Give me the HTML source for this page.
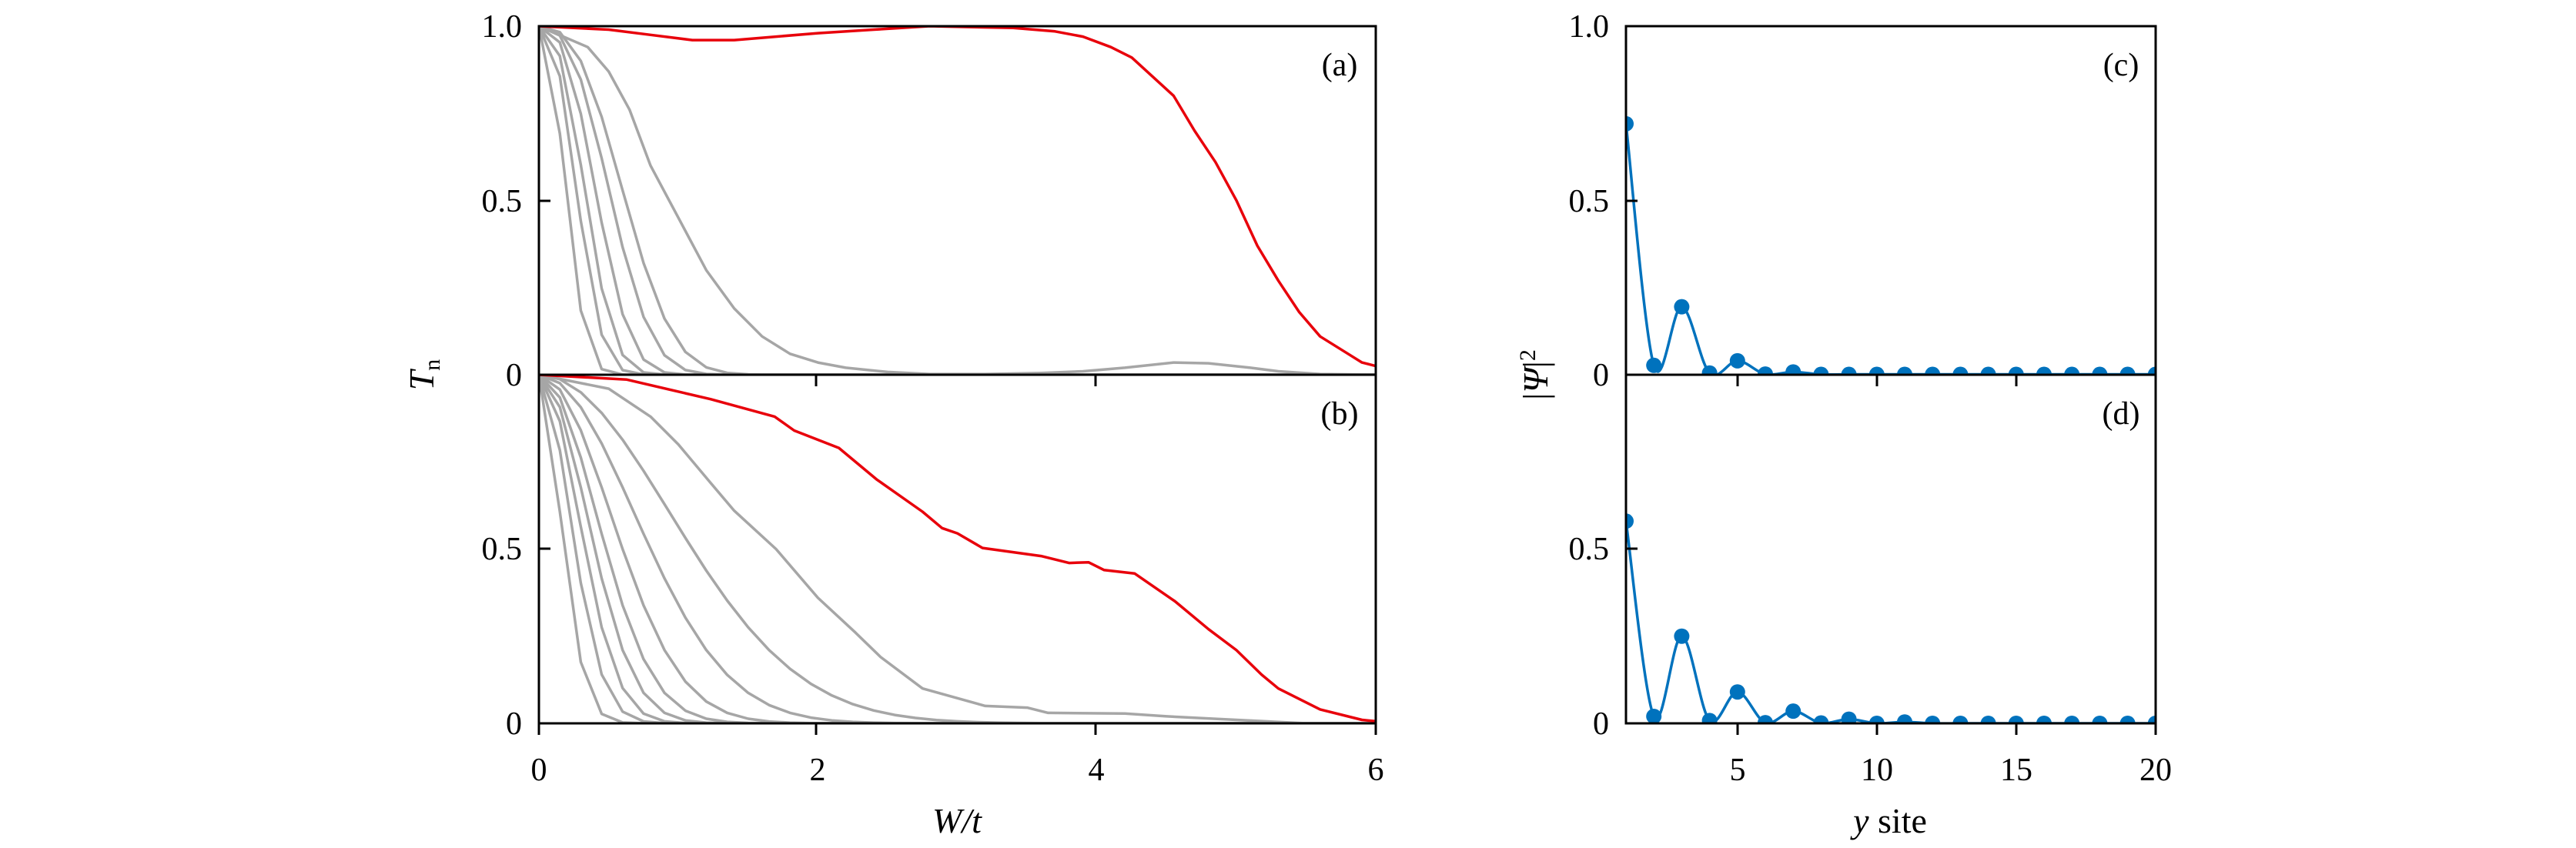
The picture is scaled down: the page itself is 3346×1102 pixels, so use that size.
<!DOCTYPE html>
<html><head><meta charset="utf-8">
<style>
html,body{margin:0;padding:0;background:#fff;}
svg{display:block;}
text{font-family:"Liberation Serif",serif;fill:#000;}
</style></head>
<body>
<svg id="s" width="3346" height="1102" viewBox="0 0 3346 1102" xmlns="http://www.w3.org/2000/svg">
<defs>
<clipPath id="ca"><rect x="700" y="34" width="1087" height="453"/></clipPath>
<clipPath id="cb"><rect x="700" y="487" width="1087" height="453"/></clipPath>
<clipPath id="cc"><rect x="2112" y="34" width="688" height="453"/></clipPath>
<clipPath id="cd"><rect x="2112" y="487" width="688" height="453"/></clipPath>
</defs>
<g id="plots"></g>
<g stroke="#000" stroke-width="3" fill="none">
<rect x="700" y="34" width="1087" height="906"/>
<line x1="700" y1="487" x2="1787" y2="487"/>
<line x1="700" y1="261" x2="715" y2="261"/>
<line x1="700" y1="713" x2="715" y2="713"/>
<line x1="1060" y1="487" x2="1060" y2="502"/>
<line x1="1423" y1="487" x2="1423" y2="502"/>
<line x1="700" y1="940" x2="700" y2="955"/>
<line x1="1060" y1="940" x2="1060" y2="955"/>
<line x1="1423" y1="940" x2="1423" y2="955"/>
<line x1="1787" y1="940" x2="1787" y2="955"/>
<rect x="2112" y="34" width="688" height="906"/>
<line x1="2112" y1="487" x2="2800" y2="487"/>
<line x1="2112" y1="261" x2="2127" y2="261"/>
<line x1="2112" y1="713" x2="2127" y2="713"/>
<line x1="2257" y1="487" x2="2257" y2="502"/>
<line x1="2438" y1="487" x2="2438" y2="502"/>
<line x1="2619" y1="487" x2="2619" y2="502"/>
<line x1="2257" y1="940" x2="2257" y2="955"/>
<line x1="2438" y1="940" x2="2438" y2="955"/>
<line x1="2619" y1="940" x2="2619" y2="955"/>
<line x1="2800" y1="940" x2="2800" y2="955"/>
</g>
<g font-size="42" text-anchor="end">
<text x="678" y="48">1.0</text><text x="678" y="275">0.5</text><text x="678" y="501">0</text>
<text x="678" y="727">0.5</text><text x="678" y="954">0</text>
<text x="2090" y="48">1.0</text><text x="2090" y="275">0.5</text><text x="2090" y="501">0</text>
<text x="2090" y="727">0.5</text><text x="2090" y="954">0</text>
</g>
<g font-size="42" text-anchor="middle">
<text x="700" y="1014">0</text><text x="1062" y="1014">2</text><text x="1424" y="1014">4</text><text x="1787" y="1014">6</text>
<text x="2257" y="1014">5</text><text x="2438" y="1014">10</text><text x="2619" y="1014">15</text><text x="2800" y="1014">20</text>
<text x="1243" y="1082" font-style="italic" font-size="46">W/t</text>
<text x="2455" y="1082" font-size="46"><tspan font-style="italic">y</tspan> site</text>
<text x="1740" y="98">(a)</text><text x="1740" y="551">(b)</text>
<text x="2755" y="98">(c)</text><text x="2755" y="551">(d)</text>
</g>
<text transform="translate(563,487) rotate(-90)" font-size="46" text-anchor="middle"><tspan font-style="italic">T</tspan><tspan font-size="30" dy="8">n</tspan></text>
<text transform="translate(2010,487) rotate(-90)" font-size="46" text-anchor="middle">|<tspan font-style="italic">Ψ</tspan>|<tspan font-size="30" dy="-16">2</tspan></text>
</svg>
<script>
var NS="http://www.w3.org/2000/svg",g=document.getElementById('plots');
function el(n,a){var e=document.createElementNS(NS,n);for(var k in a)e.setAttribute(k,a[k]);g.appendChild(e);return e;}
function LX(x){return 700+x*181.2;}
function poly(pts,y0,col,clip){var d=pts.map(function(p,i){return (i?'L':'M')+LX(p[0]).toFixed(1)+' '+(y0-p[1]*453).toFixed(1);}).join(' ');
el('path',{d:d,fill:'none',stroke:col,'stroke-width':3.5,'stroke-linejoin':'round','clip-path':'url(#'+clip+')'});}
function fn(h,p,tail){var a=[];for(var x=0;x<=6.001;x+=0.15){var v=Math.exp(-Math.LN2*Math.pow(x/h,p));if(tail)v+=tail(x);a.push([x,v]);}return a;}
var A=[[0.2,2.2],[0.28,2.4],[0.34,2.5],[0.42,2.6],[0.52,2.6],[0.62,2.6]];
A.forEach(function(q){poly(fn(q[0],q[1]),487,'#a6a6a6','ca');});
poly([[0,1],[0.35,0.94],[0.5,0.87],[0.65,0.76],[0.8,0.6],[1.0,0.45],[1.2,0.3],[1.4,0.19],[1.6,0.11],[1.8,0.06],[2,0.035],[2.2,0.02],[2.5,0.008],[2.8,0.002],[3.2,0.002],[3.6,0.005],[3.9,0.01],[4.2,0.02],[4.55,0.035],[4.8,0.033],[5.1,0.02],[5.3,0.01],[5.6,0.002],[6,0]],487,'#a6a6a6','ca');
poly([[0,1],[0.5,0.99],[0.8,0.975],[1.1,0.96],[1.4,0.96],[1.7,0.97],[2,0.98],[2.4,0.99],[2.8,1],[3.4,0.995],[3.7,0.985],[3.9,0.97],[4.1,0.94],[4.25,0.91],[4.55,0.8],[4.7,0.7],[4.85,0.61],[5,0.5],[5.15,0.37],[5.3,0.27],[5.45,0.18],[5.6,0.11],[5.8,0.06],[5.9,0.035],[6,0.025]],487,'#e8000b','ca');
[[0.18,1.8],[0.26,1.9],[0.33,2],[0.4,2],[0.48,2],[0.6,2],[0.8,2],[1.1,2]].forEach(function(q){poly(fn(q[0],q[1]),940,'#a6a6a6','cb');});
poly([[0,1],[0.5,0.96],[0.8,0.88],[1.0,0.8],[1.23,0.69],[1.4,0.61],[1.7,0.5],[2,0.36],[2.27,0.26],[2.45,0.19],[2.75,0.1],[3.2,0.05],[3.5,0.045],[3.65,0.03],[4.2,0.028],[4.5,0.02],[5,0.01],[5.5,0],[6,0]],940,'#a6a6a6','cb');
poly([[0,1],[0.63,0.986],[1.23,0.93],[1.69,0.88],[1.83,0.84],[2.15,0.79],[2.42,0.7],[2.75,0.607],[2.89,0.56],[3.0,0.545],[3.18,0.503],[3.6,0.48],[3.8,0.46],[3.94,0.462],[4.05,0.44],[4.27,0.43],[4.56,0.35],[4.8,0.27],[5,0.21],[5.18,0.14],[5.3,0.1],[5.6,0.04],[5.9,0.01],[6,0.006]],940,'#e8000b','cb');
function RX(i){return 2112+(i-1)*36.2;}
function spline(vals,y0,clip){var P=vals.map(function(v,i){return [RX(i+1),y0-v*453];});
var d='M'+P[0][0]+' '+P[0][1];
for(var i=0;i<P.length-1;i++){var p0=P[i-1]||P[i],p1=P[i],p2=P[i+1],p3=P[i+2]||p2;
d+=' C'+(p1[0]+(p2[0]-p0[0])/6)+' '+(p1[1]+(p2[1]-p0[1])/6)+' '+(p2[0]-(p3[0]-p1[0])/6)+' '+(p2[1]-(p3[1]-p1[1])/6)+' '+p2[0]+' '+p2[1];}
el('path',{d:d,fill:'none',stroke:'#0072bd','stroke-width':3.5,'clip-path':'url(#'+clip+')'});
P.forEach(function(p){el('circle',{cx:p[0],cy:p[1],r:10,fill:'#0072bd','clip-path':'url(#'+clip+')'});});}
var c=[0.72,0.027,0.195,0.005,0.04,0.002,0.008,0.001],d=[0.58,0.02,0.25,0.008,0.09,0.002,0.035,0.001,0.012,0,0.004];
while(c.length<20)c.push(0.001);while(d.length<20)d.push(0);
spline(c,487,'cc');spline(d,940,'cd');
</script>
</body></html>
